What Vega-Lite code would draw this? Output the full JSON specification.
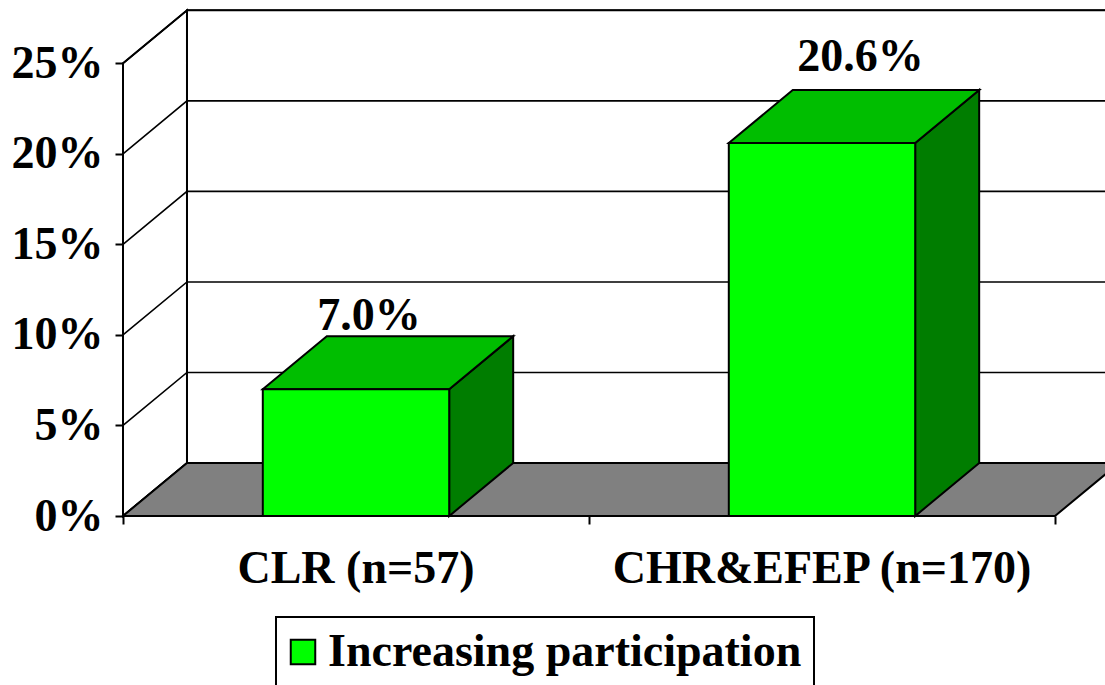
{
  "$schema": "https://vega.github.io/schema/vega-lite/v6.json",
  "width": 982,
  "height": 507,
  "autosize": {"type": "none"},
  "padding": {"left": 123, "top": 9, "right": 0, "bottom": 169},
  "background": "white",
  "params": [
    {"name": "dx", "value": 0.1373},
    {"name": "dz", "value": 0.02927}
  ],
  "datasets": {
    "bars": [
      {"group": "CLR (n=57)", "share": 0.070, "series": "Increasing participation"},
      {"group": "CHR&EFEP (n=170)", "share": 0.206, "series": "Increasing participation"}
    ],
    "ticks": [{"t": 0}, {"t": 0.05}, {"t": 0.10}, {"t": 0.15}, {"t": 0.20}, {"t": 0.25}]
  },
  "config": {
    "view": {"stroke": null},
    "font": "Liberation Serif",
    "legend": {"strokeWidth": 2}
  },
  "layer": [
    {
      "data": {"name": "ticks"},
      "transform": [
        {"filter": "datum.t == 0.25"},
        {"calculate": "dx", "as": "wx0"},
        {"calculate": "2 + dx", "as": "wx1"},
        {"calculate": "dz", "as": "wy0"},
        {"calculate": "datum.t + dz", "as": "wy1"}
      ],
      "mark": {"type": "rect", "fill": "white", "stroke": "black", "strokeWidth": 2},
      "encoding": {
        "x": {
          "field": "wx0", "type": "quantitative",
          "scale": {"domain": [0, 2.1073], "nice": false, "zero": false},
          "axis": {
            "values": [0, 1, 2], "labels": false, "title": null, "domain": false, "grid": false,
            "ticks": true, "tickSize": 8, "tickWidth": 2, "tickColor": "black"
          }
        },
        "x2": {"field": "wx1"},
        "y": {
          "field": "wy0", "type": "quantitative",
          "scale": {"domain": [0, 0.28], "nice": false, "zero": false},
          "axis": {
            "values": [0, 0.05, 0.1, 0.15, 0.2, 0.25], "format": ".0%", "title": null,
            "domain": false, "grid": false, "ticks": true, "tickSize": 8, "tickWidth": 2, "tickColor": "black",
            "labels": true, "labelFont": "Liberation Serif", "labelFontWeight": "bold", "labelFontSize": 46,
            "labelColor": "black", "labelPadding": 12, "labelBaseline": "middle"
          }
        },
        "y2": {"field": "wy1"}
      }
    },
    {
      "data": {"name": "ticks"},
      "transform": [
        {"filter": "datum.t == 0.25"},
        {"calculate": "[0, 1]", "as": "s"},
        {"flatten": ["s"]},
        {"calculate": "datum.s * dx", "as": "lx"},
        {"calculate": "datum.s * dz", "as": "ly0"},
        {"calculate": "datum.t + datum.s * dz", "as": "ly1"}
      ],
      "mark": {"type": "area", "orient": "vertical", "fill": "white", "stroke": "black", "strokeWidth": 2},
      "encoding": {
        "x": {"field": "lx", "type": "quantitative"},
        "y": {"field": "ly1", "type": "quantitative", "stack": null},
        "y2": {"field": "ly0"}
      }
    },
    {
      "data": {"name": "ticks"},
      "transform": [
        {"calculate": "[0, dx, 2 + dx]", "as": "gx"},
        {"calculate": "[datum.t, datum.t + dz, datum.t + dz]", "as": "gy"},
        {"flatten": ["gx", "gy"]}
      ],
      "mark": {"type": "line", "stroke": "black", "strokeWidth": 1.6},
      "encoding": {
        "x": {"field": "gx", "type": "quantitative"},
        "y": {"field": "gy", "type": "quantitative"},
        "detail": {"field": "t", "type": "quantitative"}
      }
    },
    {
      "data": {"name": "ticks"},
      "transform": [
        {"filter": "datum.t == 0"},
        {"calculate": "[0, 1]", "as": "s"},
        {"flatten": ["s"]},
        {"calculate": "datum.t + datum.s * dz", "as": "fy"},
        {"calculate": "datum.s * dx", "as": "fx0"},
        {"calculate": "2 + datum.s * dx", "as": "fx1"}
      ],
      "mark": {"type": "area", "orient": "horizontal", "fill": "#808080", "stroke": "black", "strokeWidth": 2},
      "encoding": {
        "y": {"field": "fy", "type": "quantitative"},
        "x": {"field": "fx0", "type": "quantitative", "stack": null},
        "x2": {"field": "fx1"}
      }
    },
    {
      "data": {"name": "bars"},
      "transform": [
        {"window": [{"op": "row_number", "as": "rank"}]},
        {"calculate": "datum.rank - 1", "as": "k"},
        {"calculate": "[0, 1]", "as": "s"},
        {"flatten": ["s"]},
        {"calculate": "datum.k + 0.7 + datum.s * dx", "as": "sx"},
        {"calculate": "datum.share + datum.s * dz", "as": "sy1"},
        {"calculate": "datum.s * dz", "as": "sy0"}
      ],
      "mark": {"type": "area", "orient": "vertical", "fill": "#007D00", "stroke": "black", "strokeWidth": 2},
      "encoding": {
        "x": {"field": "sx", "type": "quantitative"},
        "y": {"field": "sy1", "type": "quantitative", "stack": null},
        "y2": {"field": "sy0"},
        "detail": {"field": "group", "type": "nominal"}
      }
    },
    {
      "data": {"name": "bars"},
      "transform": [
        {"window": [{"op": "row_number", "as": "rank"}]},
        {"calculate": "datum.rank - 1", "as": "k"},
        {"calculate": "[0, 1]", "as": "s"},
        {"flatten": ["s"]},
        {"calculate": "datum.share + datum.s * dz", "as": "ty"},
        {"calculate": "datum.k + 0.3 + datum.s * dx", "as": "tx0"},
        {"calculate": "datum.k + 0.7 + datum.s * dx", "as": "tx1"}
      ],
      "mark": {"type": "area", "orient": "horizontal", "fill": "#00BE00", "stroke": "black", "strokeWidth": 2},
      "encoding": {
        "y": {"field": "ty", "type": "quantitative"},
        "x": {"field": "tx0", "type": "quantitative", "stack": null},
        "x2": {"field": "tx1"},
        "detail": {"field": "group", "type": "nominal"}
      }
    },
    {
      "data": {"name": "bars"},
      "transform": [
        {"window": [{"op": "row_number", "as": "rank"}]},
        {"calculate": "datum.rank - 1", "as": "k"},
        {"calculate": "datum.k + 0.3", "as": "bx0"},
        {"calculate": "datum.k + 0.7", "as": "bx1"}
      ],
      "mark": {"type": "rect", "stroke": "black", "strokeWidth": 2},
      "encoding": {
        "x": {"field": "bx0", "type": "quantitative"},
        "x2": {"field": "bx1"},
        "y": {"field": "share", "type": "quantitative"},
        "y2": {"datum": 0},
        "fill": {
          "field": "series", "type": "nominal",
          "scale": {"range": ["#00FF00"]},
          "legend": {
            "title": null, "orient": "none", "legendX": 153, "legendY": 608,
            "symbolType": "square", "symbolSize": 600, "symbolStrokeColor": "black", "symbolStrokeWidth": 2,
            "symbolOffset": -8,
            "labelFont": "Liberation Serif", "labelFontWeight": "bold", "labelFontSize": 46,
            "labelColor": "black", "labelOffset": 2, "labelLimit": 1000,
            "padding": 12, "strokeColor": "black", "fillColor": "white"
          }
        }
      }
    },
    {
      "data": {"name": "bars"},
      "transform": [
        {"window": [{"op": "row_number", "as": "rank"}]},
        {"calculate": "datum.rank - 1 + 0.5 + datum.share * 0.4", "as": "lx"},
        {"calculate": "datum.share * 1.05 + dz", "as": "ly"}
      ],
      "mark": {"type": "text", "font": "Liberation Serif", "fontWeight": "bold", "fontSize": 46, "color": "black", "baseline": "alphabetic", "align": "center"},
      "encoding": {
        "x": {"field": "lx", "type": "quantitative"},
        "y": {"field": "ly", "type": "quantitative"},
        "text": {"field": "share", "type": "quantitative", "format": ".1%"}
      }
    },
    {
      "data": {"name": "bars"},
      "transform": [
        {"window": [{"op": "row_number", "as": "rank"}]},
        {"calculate": "datum.rank - 1 + 0.5", "as": "cx"}
      ],
      "mark": {"type": "text", "font": "Liberation Serif", "fontWeight": "bold", "fontSize": 46, "color": "black", "baseline": "alphabetic", "align": "center", "dy": 67},
      "encoding": {
        "x": {"field": "cx", "type": "quantitative"},
        "y": {"datum": 0, "type": "quantitative"},
        "text": {"field": "group", "type": "nominal"}
      }
    }
  ]
}
